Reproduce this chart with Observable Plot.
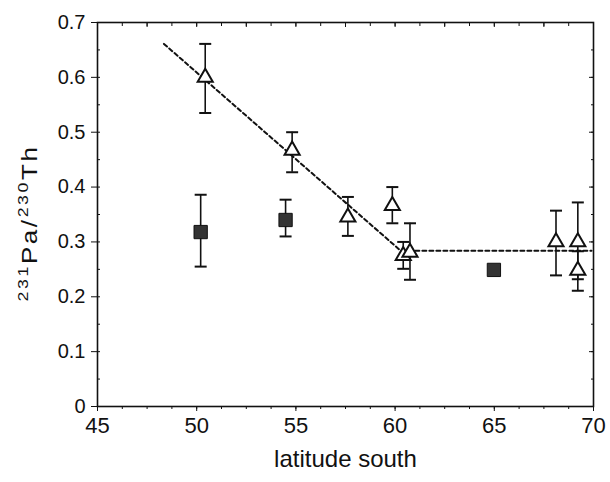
<!DOCTYPE html>
<html>
<head>
<meta charset="utf-8">
<script src="https://cdn.jsdelivr.net/npm/d3@7"></script>
<script src="https://cdn.jsdelivr.net/npm/@observablehq/plot@0.6"></script>
<style>
  html, body { margin: 0; padding: 0; background: #fff; }
  svg { display: block; }
</style>
</head>
<body>
<div id="chart"></div>
<script>
// Open triangles
const triLat = [50.43, 54.81, 57.62, 59.86, 60.41, 60.75, 68.11, 69.21, 69.21];
const triVal = [0.600, 0.467, 0.345, 0.366, 0.275, 0.281, 0.300, 0.300, 0.248];
const triLo  = [0.535, 0.427, 0.311, 0.334, 0.251, 0.231, 0.239, 0.232, 0.211];
const triHi  = [0.661, 0.500, 0.382, 0.400, 0.300, 0.334, 0.357, 0.372, 0.283];
// Filled squares
const sqLat = [50.20, 54.48, 64.98];
const sqVal = [0.318, 0.340, 0.249];
const sqLo  = [0.255, 0.310, null];
const sqHi  = [0.386, 0.377, null];
// Dashed fit line
const fitLat = [48.35, 60.28, 69.9];
const fitVal = [0.661, 0.284, 0.284];
// Axis ticks
const xTicks = [45, 50, 55, 60, 65, 70];
const yTicks = [0, 0.1, 0.2, 0.3, 0.4, 0.5, 0.6, 0.7];
const yTickLabels = ["0", "0.1", "0.2", "0.3", "0.4", "0.5", "0.6", "0.7"];
const xLabel = "latitude south";

const tri = triLat.map((x, i) => ({x, y: triVal[i], lo: triLo[i], hi: triHi[i]}));
const sq = sqLat.map((x, i) => ({x, y: sqVal[i], lo: sqLo[i], hi: sqHi[i]}));
const fit = fitLat.map((x, i) => ({x, y: fitVal[i]}));
const bars = [...tri, ...sq].filter(d => d.lo != null);
const caps = bars.flatMap(d => [{x: d.x, y: d.lo}, {x: d.x, y: d.hi}]);

const capSymbol = {draw(ctx, size) { const w = 6; ctx.moveTo(-w, 0); ctx.lineTo(w, 0); }};

const xMinor = d3.range(45, 70.01, 1.25);
const yMinor = d3.range(0, 0.701, 0.05);
const blank = () => "";

const font = "'Liberation Sans', Arial, Helvetica, sans-serif";

const chart = Plot.plot({
  width: 610,
  height: 482,
  marginLeft: 97,
  marginRight: 17,
  marginTop: 22,
  marginBottom: 76,
  style: {fontFamily: font, fontSize: "20px", color: "#111", background: "#fff"},
  x: {domain: [45, 70]},
  y: {domain: [0, 0.7]},
  marks: [
    Plot.frame({stroke: "#111", strokeWidth: 1.6}),
    // bottom axis
    Plot.axisX({anchor: "bottom", ticks: xTicks, tickSize: 5, tickPadding: 6, fontSize: 22, stroke: "#111", label: null}),
    Plot.axisX({anchor: "bottom", ticks: xMinor, tickSize: 3, tickFormat: blank, stroke: "#111", label: null}),
    // top axis: inward ticks
    Plot.axisX({anchor: "top", ticks: xMinor, tickSize: -3, tickFormat: blank, stroke: "#111", label: null}),
    Plot.axisX({anchor: "top", ticks: d3.range(45, 70.01, 2.5), tickSize: -4, tickFormat: blank, stroke: "#111", label: null}),
    // left axis
    Plot.axisY({anchor: "left", ticks: yTicks, tickSize: 6, tickPadding: 6, fontSize: 20, stroke: "#111", label: null,
      tickFormat: (d, i) => yTickLabels[i]}),
    Plot.axisY({anchor: "left", ticks: yMinor, tickSize: -3, tickFormat: blank, stroke: "#111", label: null}),
    // right axis inward
    Plot.axisY({anchor: "right", ticks: yMinor, tickSize: -3, tickFormat: blank, stroke: "#111", label: null}),
    Plot.axisY({anchor: "right", ticks: yTicks, tickSize: -5, tickFormat: blank, stroke: "#111", label: null}),
    // fit line
    Plot.line(fit, {x: "x", y: "y", stroke: "#111", strokeWidth: 2, strokeDasharray: "4,3"}),
    // error bars
    Plot.ruleX(bars, {x: "x", y1: "lo", y2: "hi", stroke: "#111", strokeWidth: 1.6}),
    Plot.dot(caps, {x: "x", y: "y", symbol: capSymbol, stroke: "#111", strokeWidth: 2, r: 5}),
    // squares
    Plot.dot(sq, {x: "x", y: "y", symbol: "square", r: 7.5, fill: "#333", stroke: "#111", strokeWidth: 1}),
    // triangles
    Plot.dot(tri, {x: "x", y: "y", symbol: "triangle", r: 5.6, fill: "#fff", stroke: "#111", strokeWidth: 2}),
    // x-axis title
    Plot.text([xLabel], {frameAnchor: "bottom", dy: 60, text: d => d, fontSize: 24, fill: "#111"})
  ]
});

// Y axis title with superscripts
const svg = d3.select(chart);
const g = svg.append("text")
  .attr("transform", "translate(37,223) rotate(-90) scale(1.18,1)")
  .attr("text-anchor", "middle")
  .attr("font-family", font)
  .attr("font-size", 22)
  .attr("letter-spacing", 2.2)
  .attr("fill", "#111");
g.append("tspan").attr("font-size", 15).attr("dy", -9).text("231");
g.append("tspan").attr("dy", 9).text("Pa/");
g.append("tspan").attr("font-size", 15).attr("dy", -9).text("230");
g.append("tspan").attr("dy", 9).text("Th");

document.getElementById("chart").appendChild(chart);
</script>
</body>
</html>
